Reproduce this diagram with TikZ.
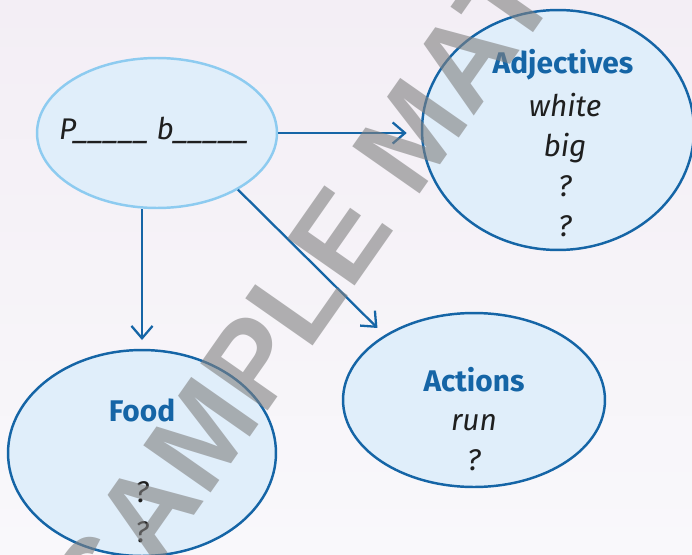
\documentclass[tikz,border=0pt]{standalone}
\usepackage{fontspec}
\setmainfont{Fira Sans}
\newfontfamily\stampfont{Liberation Sans}
\usepackage{tikz}
\usetikzlibrary{arrows.meta,shapes.geometric}
\definecolor{mapblue}{HTML}{1565A6}
\definecolor{paleblue}{HTML}{E0EEFA}
\definecolor{skyline}{HTML}{8DCBF0}
\definecolor{bgtop}{HTML}{F3EEF5}
\definecolor{bgbottom}{HTML}{F9F8FB}

\begin{document}
\begin{tikzpicture}[x=0.02cm, y=-0.02cm,
  bubble/.style={ellipse, draw=mapblue, line width=1.4pt, fill=paleblue, inner sep=0pt},
  head/.style={text=mapblue, font=\fontsize{17}{22.7}\selectfont\bfseries},
  words/.style={align=center, text=black!88, font=\fontsize{17}{22.7}\selectfont\itshape},
  link/.style={draw=mapblue, line width=1.3pt, -{Straight Barb[length=7pt, width=12pt]}}]
  \shade[top color=bgtop, bottom color=bgbottom] (0,0) rectangle (692,554);
  \useasboundingbox (0,0) rectangle (692,554);
  \begin{scope}
  \clip (0,0) rectangle (692,554);

  \node[bubble, draw=skyline, minimum width=4.8cm, minimum height=3cm] (topic) at (157,133) {};
  \node[bubble, minimum width=5.44cm, minimum height=4.8cm] (adj) at (558,130) {};
  \node[bubble, minimum width=5.24cm, minimum height=3.48cm] (act) at (474,400) {};
  \node[bubble, minimum width=5.36cm, minimum height=4.12cm] (food) at (142,453) {};

  \node[words] (word) at (154,130) {P\_\_\_\_\_ b\_\_\_\_\_};

  \node[head] (adjhead) at (563,65) {Adjectives};
  \node[words] (adjlist) at (565,165) {white\\ big\\ ?\\ ?};
  \node[head] (acthead) at (474,380) {Actions};
  \node[words] (actlist) at (474,443) {run\\ ?};
  \node[head] (foodhead) at (142,410) {Food};
  \node[words] (foodlist) at (142,512) {?\\ ?};

  \draw[link, shorten >=8pt] (topic.east) -- (adj.west |- topic.east);
  \draw[link, shorten >=5pt] (topic.south -| food.north) -- (food.north);
  \draw[link, shorten >=5.7pt] (topic.-35) -- (act.144);

  \node[rotate=55, text=gray, opacity=0.6, font=\fontsize{68}{68}\selectfont\stampfont\bfseries] (stamp) at (404,145) {SAMPLE MATERIAL};
  \end{scope}
\end{tikzpicture}
\end{document}
